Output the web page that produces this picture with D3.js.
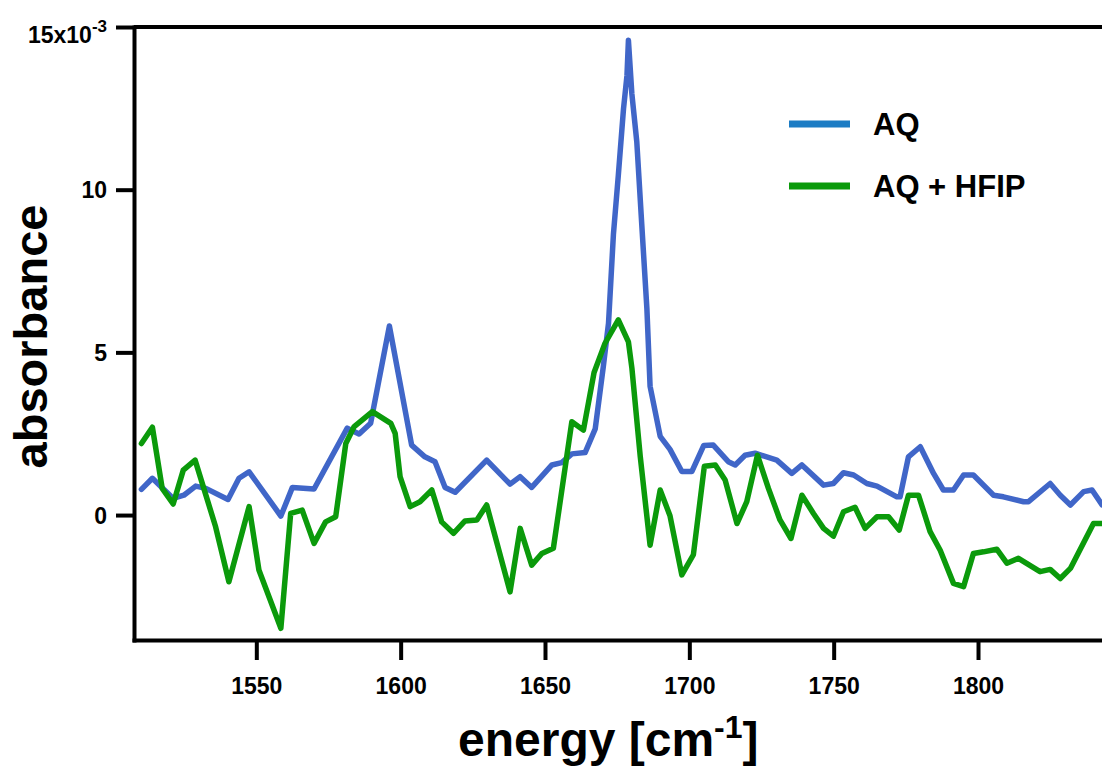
<!DOCTYPE html>
<html>
<head>
<meta charset="utf-8">
<script src="https://cdn.jsdelivr.net/npm/d3@7/dist/d3.min.js"></script>
<style>
  html, body { margin: 0; padding: 0; background: #fff; }
  svg { display: block; }
  text { font-family: "Liberation Sans", Arial, Helvetica, sans-serif; font-weight: bold; fill: #000; }
</style>
</head>
<body>
<svg id="chart" width="1102" height="769"></svg>
<script>
// Wavenumber (cm^-1) and absorbance (x10^-3) for each spectrum
const aqX = [1510.2, 1514.0, 1521.2, 1524.9, 1529.0, 1532.5, 1540.2, 1544.0, 1547.5, 1558.5,
  1562.5, 1570.0, 1581.5, 1585.6, 1589.6, 1596.1, 1603.8, 1608.4, 1611.9, 1615.4,
  1618.9, 1629.8, 1637.9, 1641.4, 1645.4, 1652.4, 1655.8, 1659.3, 1663.9, 1667.4,
  1670.2, 1672.0, 1673.7, 1675.4, 1677.2, 1678.4, 1678.9, 1680.1, 1681.8, 1683.5,
  1685.3, 1686.4, 1689.9, 1693.3, 1697.4, 1700.9, 1705.0, 1708.3, 1713.5, 1715.9,
  1719.3, 1722.8, 1730.3, 1735.5, 1739.0, 1746.5, 1749.9, 1753.4, 1756.9, 1761.5,
  1765.0, 1771.9, 1773.0, 1775.9, 1780.0, 1784.6, 1788.0, 1791.5, 1795.0, 1798.4,
  1805.4, 1808.8, 1815.8, 1817.5, 1825.0, 1828.5, 1832.0, 1836.6, 1839.5, 1843.0];
const aqY = [0.79, 1.13, 0.51, 0.61, 0.89, 0.82, 0.48, 1.13, 1.33, -0.03,
  0.85, 0.80, 2.67, 2.49, 2.82, 5.81, 2.15, 1.79, 1.64, 0.85,
  0.70, 1.69, 0.95, 1.18, 0.85, 1.54, 1.61, 1.88, 1.92, 2.65,
  4.56, 5.89, 8.62, 10.44, 12.49, 13.51, 14.59, 12.94, 11.47, 8.96,
  6.34, 3.96, 2.42, 2.02, 1.34, 1.34, 2.14, 2.15, 1.64, 1.54,
  1.84, 1.90, 1.69, 1.28, 1.54, 0.92, 0.97, 1.30, 1.23, 0.97,
  0.89, 0.56, 0.56, 1.79, 2.10, 1.28, 0.77, 0.77, 1.23, 1.23,
  0.61, 0.56, 0.41, 0.41, 0.97, 0.61, 0.31, 0.72, 0.77, 0.31];

const hfipX = [1510.2, 1514.0, 1517.4, 1521.2, 1524.7, 1528.8, 1535.9, 1540.5, 1547.5, 1550.9,
  1558.5, 1561.9, 1565.9, 1570.0, 1574.0, 1577.5, 1581.0, 1583.9, 1590.2, 1596.6,
  1598.1, 1599.8, 1603.3, 1606.7, 1610.8, 1614.2, 1618.3, 1622.3, 1626.4, 1629.8,
  1637.9, 1641.4, 1645.4, 1648.9, 1652.9, 1659.3, 1663.3, 1667.0, 1670.8, 1675.4,
  1678.9, 1680.1, 1683.0, 1686.4, 1689.9, 1693.3, 1697.4, 1701.4, 1705.2, 1709.0,
  1712.4, 1716.5, 1719.9, 1723.6, 1727.4, 1731.4, 1735.2, 1739.0, 1743.0, 1746.5,
  1749.9, 1753.4, 1757.4, 1760.9, 1765.0, 1769.0, 1772.7, 1775.9, 1779.4, 1783.4,
  1786.9, 1791.5, 1795.0, 1798.4, 1801.9, 1806.5, 1810.0, 1814.0, 1821.5, 1825.0,
  1828.5, 1832.0, 1840.0, 1843.0];
const hfipY = [2.20, 2.70, 0.82, 0.34, 1.38, 1.69, -0.36, -2.05, 0.26, -1.69,
  -3.48, 0.05, 0.15, -0.87, -0.21, -0.05, 2.20, 2.72, 3.18, 2.82,
  2.51, 1.18, 0.26, 0.41, 0.77, -0.21, -0.56, -0.18, -0.15, 0.31,
  -2.36, -0.41, -1.54, -1.18, -1.02, 2.87, 2.61, 4.38, 5.28, 6.00,
  5.32, 4.52, 1.80, -0.93, 0.77, -0.02, -1.84, -1.22, 1.50, 1.54,
  1.08, -0.26, 0.41, 1.84, 0.82, -0.15, -0.72, 0.61, 0.05, -0.41,
  -0.65, 0.10, 0.24, -0.41, -0.05, -0.05, -0.46, 0.61, 0.61, -0.51,
  -1.08, -2.10, -2.20, -1.18, -1.13, -1.05, -1.48, -1.33, -1.74, -1.67,
  -1.95, -1.64, -0.26, -0.26];

const seriesNames = ["AQ", "AQ + HFIP"];
const xTicks = [1550, 1600, 1650, 1700, 1750, 1800];
const yTicks = [0, 5, 10, 15];
const yTickLabels = ["0", "5", "10", "15x10"];

const lineColors = ["#4066c8", "#0b9a0b"];
const legendColors = ["#1c7cc4", "#0b9a0b"];

const svg = d3.select("#chart");
const plotLeft = 134, plotRight = 1102, plotTop = 27, plotBottom = 640;

const x = d3.scaleLinear().domain([1507.63, 1842.95]).range([plotLeft, plotRight]);
const y = d3.scaleLinear().domain([-3.84, 15]).range([plotBottom, plotTop]);

// clip the spectra to the plotting frame
svg.append("defs").append("clipPath").attr("id", "plotClip")
  .append("rect").attr("x", plotLeft).attr("y", plotTop)
  .attr("width", plotRight - plotLeft).attr("height", plotBottom - plotTop);

const line = d3.line().x(d => x(d[0])).y(d => y(d[1]));
const series = [d3.zip(aqX, aqY), d3.zip(hfipX, hfipY)];

svg.append("g").attr("clip-path", "url(#plotClip)")
  .selectAll("path").data(series).join("path")
  .attr("d", line)
  .attr("fill", "none")
  .attr("stroke", (d, i) => lineColors[i])
  .attr("stroke-width", 5.5)
  .attr("stroke-linejoin", "round")
  .attr("stroke-linecap", "round");

// top frame line
svg.append("line")
  .attr("x1", plotLeft).attr("x2", plotRight).attr("y1", y(15)).attr("y2", y(15))
  .attr("stroke", "#000").attr("stroke-width", 4);

// y axis
const yAxis = d3.axisLeft(y).tickValues(yTicks).tickSize(18).tickPadding(9).tickSizeOuter(0)
  .tickFormat((d, i) => yTickLabels[i]);
const gy = svg.append("g").attr("transform", `translate(${plotLeft},0)`).call(yAxis);
gy.select(".domain").attr("stroke-width", 4).attr("stroke-linecap", "square");
gy.selectAll(".tick line").attr("stroke-width", 4);
gy.selectAll(".tick text")
  .attr("font-size", 23).attr("font-family", null).attr("fill", "#000").attr("dy", "0.36em");
// exponent on the top tick label
gy.selectAll(".tick text").filter(d => d === 15)
  .attr("dy", null).attr("y", 15)
  .each(function () {
    const t = d3.select(this);
    const base = t.text();
    t.text(null);
    t.append("tspan").text(base);
    t.append("tspan").attr("font-size", 17).attr("dy", -11).text("-3");
  });

// x axis
const xAxis = d3.axisBottom(x).tickValues(xTicks).tickSize(20).tickPadding(18).tickSizeOuter(0)
  .tickFormat(d3.format("d"));
const gx = svg.append("g").attr("transform", `translate(0,${plotBottom})`).call(xAxis);
gx.select(".domain").attr("stroke-width", 4).attr("stroke-linecap", "square");
gx.selectAll(".tick line").attr("stroke-width", 4);
gx.selectAll(".tick text").attr("font-size", 23).attr("font-family", null).attr("fill", "#000");

// axis titles
const xt = svg.append("text").attr("x", 458).attr("y", 756).attr("font-size", 48);
xt.append("tspan").text("energy [cm");
xt.append("tspan").attr("font-size", 32).attr("dy", -18).text("-1");
xt.append("tspan").attr("dy", 18).text("]");

svg.append("text")
  .attr("transform", "translate(47,336.5) rotate(-90)")
  .attr("text-anchor", "middle")
  .attr("font-size", 47)
  .text("absorbance");

// legend
const legend = svg.append("g");
const legendRows = [124, 186];
seriesNames.forEach((name, i) => {
  legend.append("line")
    .attr("x1", 789).attr("x2", 850).attr("y1", legendRows[i]).attr("y2", legendRows[i])
    .attr("stroke", legendColors[i]).attr("stroke-width", 7);
  legend.append("text")
    .attr("x", 873).attr("y", legendRows[i] + 11)
    .attr("font-size", 31)
    .text(name);
});
</script>
</body>
</html>
